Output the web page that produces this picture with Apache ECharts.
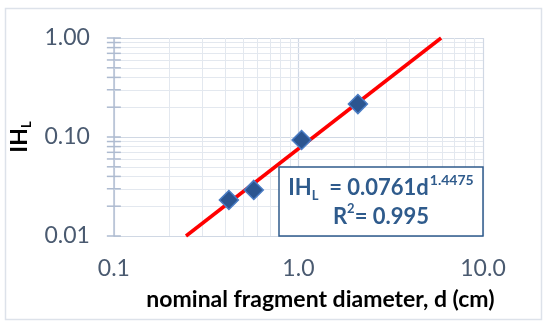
<!DOCTYPE html>
<html>
<head>
    <meta charset="utf-8">
    <title>IHL vs d</title>
    <script src="https://cdn.jsdelivr.net/npm/echarts@6/dist/echarts.min.js"></script>
    <style>
        html, body { margin: 0; padding: 0; background: #fff; }
        #main { width: 550px; height: 323px; }
    </style>
    <script type="text/javascript">
    // measured points (d in cm, IH_L)
    var pointD = [0.42, 0.573, 1.04, 2.10];
    var pointIH = [0.0231, 0.0292, 0.0933, 0.215];
    // fitted power line IH_L = 0.0761 d^1.4475, end points as drawn
    var fitD = [0.246, 5.93];
    var fitIH = [0.01, 1.0];
    // tick values
    var yMajorTicks = [0.01, 0.1, 1];
    var yMinorTicks = [0.02, 0.03, 0.04, 0.05, 0.06, 0.07, 0.08, 0.09,
                       0.2, 0.3, 0.4, 0.5, 0.6, 0.7, 0.8, 0.9];
    var xMinorTicks = [0.2, 0.3, 0.4, 0.5, 0.6, 0.7, 0.8, 0.9,
                       2, 3, 4, 5, 6, 7, 8, 9];

    window.onload = function () {
        var FONT = 'Lato';
        var LABEL = '#4A5A70';
        var BOX = '#2F5B8C';

        var pts = [];
        for (var i = 0; i < pointD.length; i++) pts.push([pointD[i], pointIH[i]]);
        var fit = [];
        for (var j = 0; j < fitD.length; j++) fit.push([fitD[j], fitIH[j]]);

        // y axis tick marks that cross the axis line
        var yTicks = [];
        yMajorTicks.concat(yMinorTicks).forEach(function (v) { yTicks.push([0.1, v]); });

        // minor grid lines
        var minorLines = [];
        yMinorTicks.forEach(function (v) { minorLines.push({ yAxis: v }); });
        xMinorTicks.forEach(function (v) { minorLines.push({ xAxis: v }); });

        var option = {
            animation: false,
            textStyle: { fontFamily: FONT },
            grid: { left: 111, right: 67, top: 38, bottom: 87 },
            xAxis: {
                type: 'log', logBase: 10, min: 0.1, max: 10,
                axisLine: { show: false },
                axisTick: { show: false },
                axisLabel: {
                    margin: 21, color: LABEL, fontSize: 23, fontFamily: FONT,
                    formatter: function (v) { return v.toFixed(1); }
                },
                splitLine: { show: true, lineStyle: { color: '#D0D8E4', width: 1.2 } },
                name: 'nominal fragment diameter, d (cm)',
                nameLocation: 'middle',
                nameGap: 52,
                nameTextStyle: { color: '#000', fontSize: 23, fontWeight: 'bold', fontFamily: FONT, padding: [0, 0, 0, 44] }
            },
            yAxis: {
                type: 'log', logBase: 10, min: 0.01, max: 1,
                axisLine: { show: true, lineStyle: { color: '#B4C0D4', width: 1.5 } },
                axisTick: { show: false },
                axisLabel: {
                    margin: 24, color: LABEL, fontSize: 23, fontFamily: FONT,
                    formatter: function (v) { return v.toFixed(2); }
                },
                splitLine: { show: true, lineStyle: { color: '#D0D8E4', width: 1.2 } },
                name: '{b|IH}{s|L}',
                nameLocation: 'middle',
                nameRotate: 90,
                nameGap: 80,
                nameTextStyle: {
                    rich: {
                        b: { fontSize: 23, fontWeight: 'bold', color: '#000', fontFamily: FONT, lineHeight: 28 },
                        s: { fontSize: 13, fontWeight: 'bold', color: '#000', fontFamily: FONT, lineHeight: 12, verticalAlign: 'bottom' }
                    }
                }
            },
            series: [
                {
                    type: 'line', data: [], silent: true,
                    markLine: {
                        z: 1, silent: true, symbol: 'none', label: { show: false },
                        lineStyle: { color: '#E3E8EF', width: 1, type: 'solid' },
                        emphasis: { disabled: true },
                        data: minorLines
                    }
                },
                {
                    type: 'scatter', data: yTicks, clip: false, silent: true, z: 2,
                    symbol: 'rect', symbolSize: [14, 1.5],
                    itemStyle: { color: '#AEBBD0', opacity: 1 }
                },
                {
                    type: 'line', data: fit, symbol: 'none', z: 3,
                    lineStyle: { color: '#FF0000', width: 3.5 }
                },
                {
                    type: 'scatter', data: pts, z: 4,
                    symbol: 'diamond', symbolSize: [19, 19],
                    itemStyle: { color: '#2B5590', borderColor: '#4A7CC4', borderWidth: 1.5, opacity: 1 }
                }
            ],
            graphic: [
                {
                    type: 'rect', z: 0, silent: true,
                    shape: { x: 5.5, y: 8.5, width: 536, height: 311 },
                    style: { fill: 'none', stroke: '#DDE2EA', lineWidth: 1.5 }
                },
                {
                    type: 'rect', z: 100, silent: true,
                    shape: { x: 279, y: 167, width: 204, height: 69 },
                    style: { fill: '#fff', stroke: BOX, lineWidth: 1.5 }
                },
                {
                    type: 'text', z: 101, silent: true, x: 381, y: 202,
                    style: {
                        text: '{b|IH}{s|L}{b|  = 0.0761d}{p|1.4475}\n{b|R}{q|2}{b|= 0.995}',
                        align: 'center', verticalAlign: 'middle',
                        rich: {
                            b: { fontSize: 22, fontWeight: 'bold', fill: BOX, fontFamily: FONT, lineHeight: 29 },
                            s: { fontSize: 13, fontWeight: 'bold', fill: BOX, fontFamily: FONT, lineHeight: 14, verticalAlign: 'bottom' },
                            p: { fontSize: 14, fontWeight: 'bold', fill: BOX, fontFamily: FONT, lineHeight: 20, verticalAlign: 'top', padding: [0, 0, 0, 1] },
                            q: { fontSize: 13, fontWeight: 'bold', fill: BOX, fontFamily: FONT, lineHeight: 20, verticalAlign: 'top' }
                        }
                    }
                }
            ]
        };

        var myChart = echarts.init(document.getElementById('main'));
        myChart.setOption(option);
    };
    </script>
</head>
<body>
    <div id="main"></div>
</body>
</html>
